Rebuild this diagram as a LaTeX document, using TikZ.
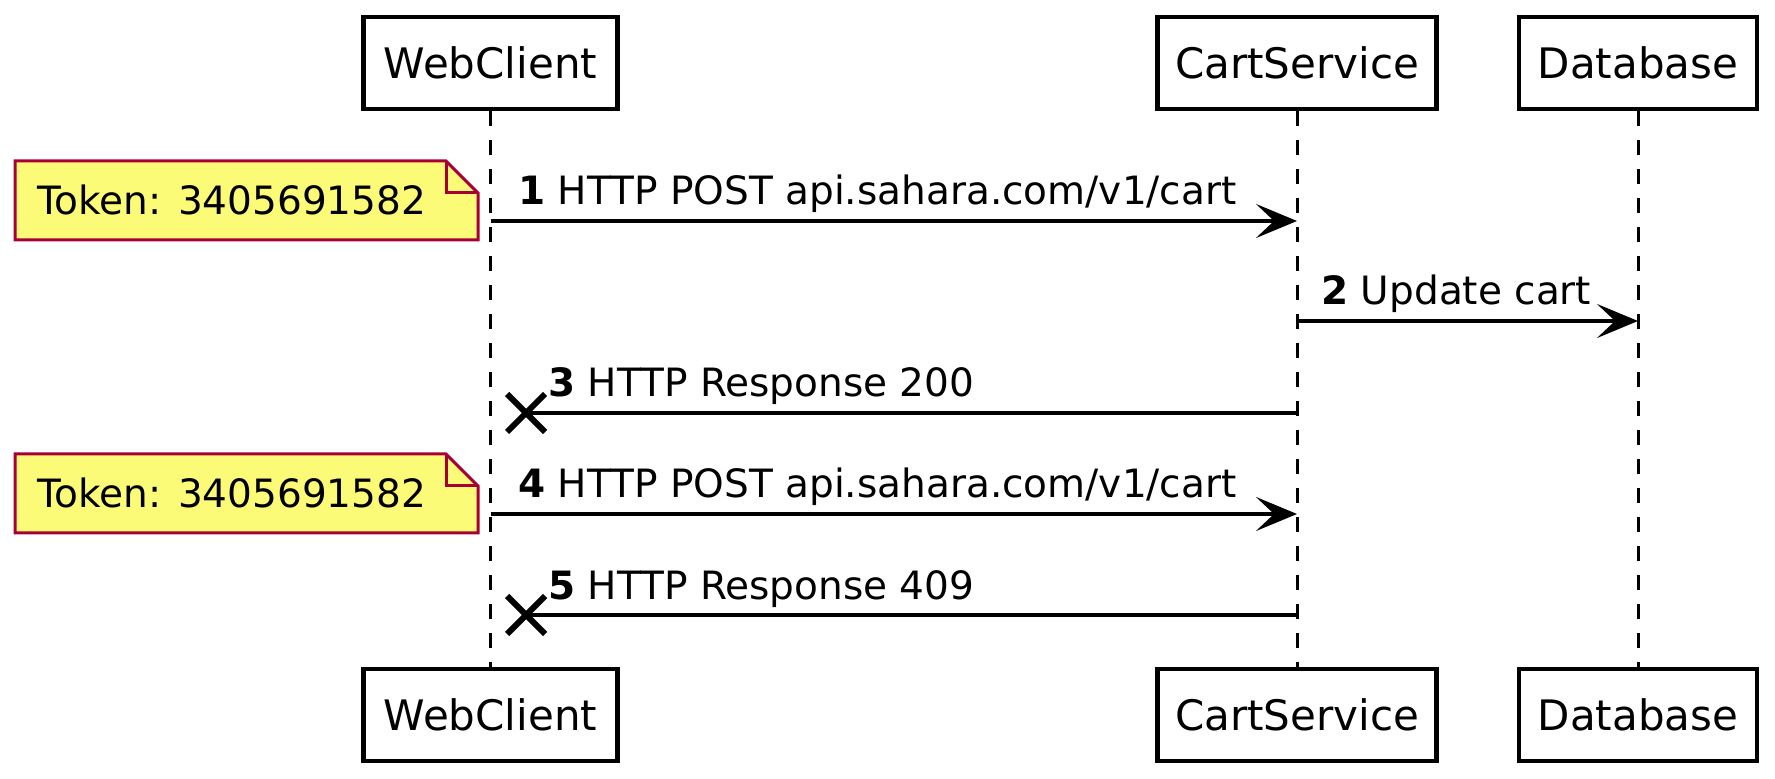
\documentclass[tikz,border=0pt]{standalone}
\usepackage{fontspec}
\setmainfont{DejaVu Sans}
\usetikzlibrary{arrows.meta,shapes.misc}
\definecolor{notefill}{HTML}{FBFB77}
\definecolor{noteedge}{HTML}{A80036}
\begin{document}
\begin{tikzpicture}[x=0.5pt,y=-0.5pt,
 part/.style={draw, line width=2.2pt, minimum height=46pt, inner sep=0pt, font=\fontsize{21pt}{25pt}\selectfont},
 life/.style={line width=1.5pt, dash pattern=on 7.5pt off 7pt},
 msg/.style={line width=1.6pt, -{Stealth[length=20.5pt,width=17pt,inset=9pt]}},
 ret/.style={line width=1.6pt},
 lbl/.style={anchor=base west, inner sep=0pt, font=\fontsize{19.5pt}{23pt}\selectfont},
 xmark/.style={cross out, draw, line width=3pt, minimum size=16pt, inner sep=0pt},
 note/.style={draw=noteedge, fill=notefill, line width=1.5pt, line join=miter},
]
\useasboundingbox (0,0) rectangle (1775,779);

% participants
\node[part, minimum width=127pt] (wcT) at (490.5,63) {WebClient};
\node[part, minimum width=139.5pt] (csT) at (1297,63) {CartService};
\node[part, minimum width=119pt] (dbT) at (1638,63) {Database};
\node[part, minimum width=127pt] (wcB) at (490.5,715) {WebClient};
\node[part, minimum width=139.5pt] (csB) at (1297,715) {CartService};
\node[part, minimum width=119pt] (dbB) at (1638,715) {Database};

% lifelines
\draw[life] (wcT) -- (wcB);
\draw[life] (csT) -- (csB);
\draw[life] (dbT) -- (dbB);

% message rows
\coordinate (m1) at (0,221);
\coordinate (m2) at (0,321);
\coordinate (m3) at (0,413);
\coordinate (m4) at (0,514);
\coordinate (m5) at (0,615);

% messages
\draw[msg] (wcT |- m1) -- (csT |- m1);
\draw[msg] (csT |- m2) -- (dbT |- m2);
\node[xmark] (x3) at (526,413) {};
\draw[ret] (csT |- m3) -- (x3.center);
\draw[msg] (wcT |- m4) -- (csT |- m4);
\node[xmark] (x5) at (526,615) {};
\draw[ret] (csT |- m5) -- (x5.center);

% labels
\node[lbl] (l1) at (518,205) {\textbf{1} HTTP POST api.sahara.com/v1/cart};
\node[lbl] (l2) at (1321,305) {\textbf{2} Update cart};
\node[lbl] (l3) at (548,397) {\textbf{3} HTTP Response 200};
\node[lbl] (l4) at (518,498) {\textbf{4} HTTP POST api.sahara.com/v1/cart};
\node[lbl] (l5) at (548,599) {\textbf{5} HTTP Response 409};

% notes
\draw[note] (15,161) -- (446,161) -- (478,193) -- (478,240) -- (15,240) -- cycle;
\draw[note, fill=none] (446,161) -- (446,193) -- (478,193);
\node[lbl] (n1) at (37,215) {Token: 3405691582};
\draw[note] (15,454) -- (446,454) -- (478,486) -- (478,533) -- (15,533) -- cycle;
\draw[note, fill=none] (446,454) -- (446,486) -- (478,486);
\node[lbl] (n2) at (37,508) {Token: 3405691582};
\end{tikzpicture}
\end{document}
